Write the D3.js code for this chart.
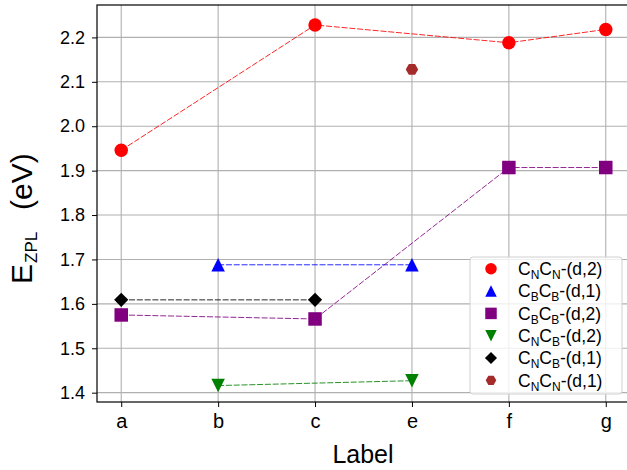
<!DOCTYPE html>
<html>
<head>
<meta charset="utf-8">
<script src="https://cdn.jsdelivr.net/npm/d3@7"></script>
<style>
    body { margin: 0; background: #fff; }
    svg { font-family: "Liberation Sans", Arial, sans-serif; }
</style>
</head>
<body>
<svg id="chart" width="627" height="470"></svg>
<script>
// x categories and y ticks
const labels = ['a', 'b', 'c', 'e', 'f', 'g'];
const yTicks = [1.4, 1.5, 1.6, 1.7, 1.8, 1.9, 2.0, 2.1, 2.2];

// E_ZPL values per label (null = not computed)
const cncnD2 = [1.946, null, 2.228, null, 2.188, 2.218];
const cbcbD1 = [null, 1.688, null, 1.688, null, null];
const cbcbD2 = [1.575, null, 1.566, null, 1.907, 1.907];
const cncbD2 = [null, 1.416, null, 1.427, null, null];
const cncbD1 = [1.609, null, 1.609, null, null, null];
const cncnD1 = [null, null, null, 2.128, null, null];

// legend names: [main, sub, main, sub, rest]
const names = [
    ['C', 'N', 'C', 'N', '-(d,2)'],
    ['C', 'B', 'C', 'B', '-(d,1)'],
    ['C', 'B', 'C', 'B', '-(d,2)'],
    ['C', 'N', 'C', 'B', '-(d,2)'],
    ['C', 'N', 'C', 'B', '-(d,1)'],
    ['C', 'N', 'C', 'N', '-(d,1)']
];

const series = [
    {values: cncnD2, color: 'red', marker: 'circle', name: names[0]},
    {values: cbcbD1, color: 'blue', marker: 'triangleUp', name: names[1]},
    {values: cbcbD2, color: 'purple', marker: 'square', name: names[2]},
    {values: cncbD2, color: 'green', marker: 'triangleDown', name: names[3]},
    {values: cncbD1, color: 'black', marker: 'diamond', name: names[4]},
    {values: cncnD1, color: 'brown', marker: 'hexagon', name: names[5]}
];

const margin = {left: 97, top: 5, right: 630, bottom: 402};

const svg = d3.select('#chart');

const x = d3.scalePoint().domain(labels).range([margin.left, margin.right]).padding(0.25);
const y = d3.scaleLinear().domain([1.379, 2.273]).range([margin.bottom, margin.top]);

// marker path, ms = marker size in px
function markerPath(type, ms) {
    const s = ms / 2;
    if (type === 'circle') {
        return `M${s},0A${s},${s} 0 1,1 ${-s},0A${s},${s} 0 1,1 ${s},0Z`;
    } else if (type === 'square') {
        return `M${-s},${-s}H${s}V${s}H${-s}Z`;
    } else if (type === 'triangleUp') {
        return `M0,${-s}L${s},${s}L${-s},${s}Z`;
    } else if (type === 'triangleDown') {
        return `M0,${s}L${s},${-s}L${-s},${-s}Z`;
    } else if (type === 'diamond') {
        const d = s * 1.05;
        return `M0,${-d}L${d},0L0,${d}L${-d},0Z`;
    } else {
        const r = s * 0.92;
        const pts = d3.range(6).map(i => {
            const a = i * Math.PI / 3;
            return [r * Math.cos(a), r * Math.sin(a)];
        });
        return 'M' + pts.map(p => p.join(',')).join('L') + 'Z';
    }
}

// grid
const grid = svg.append('g').attr('class', 'grid');
grid.selectAll('line.v')
    .data(labels)
    .enter().append('line')
    .attr('x1', d => x(d)).attr('x2', d => x(d))
    .attr('y1', margin.top).attr('y2', margin.bottom)
    .attr('stroke', '#b0b0b0').attr('stroke-width', 1.1);
grid.selectAll('line.h')
    .data(yTicks)
    .enter().append('line')
    .attr('x1', margin.left).attr('x2', margin.right)
    .attr('y1', d => y(d)).attr('y2', d => y(d))
    .attr('stroke', '#b0b0b0').attr('stroke-width', 1.1);

// lines and markers
const line = d3.line().x(d => x(d.label)).y(d => y(d.value));

series.forEach(s => {
    const pts = labels.map((l, i) => ({label: l, value: s.values[i]})).filter(d => d.value !== null);
    if (pts.length > 1) {
        svg.append('path')
            .datum(pts)
            .attr('d', line)
            .attr('fill', 'none')
            .attr('stroke', s.color)
            .attr('stroke-width', 1)
            .attr('stroke-opacity', 0.85)
            .attr('stroke-dasharray', '6,1.8');
    }
    svg.append('g').selectAll('path')
        .data(pts)
        .enter().append('path')
        .attr('transform', d => `translate(${x(d.label)},${y(d.value)})`)
        .attr('d', markerPath(s.marker, 13.5))
        .attr('fill', s.color);
});

// axes
const xAxis = svg.append('g')
    .attr('transform', `translate(0,${margin.bottom})`)
    .call(d3.axisBottom(x).tickSize(5).tickPadding(7).tickSizeOuter(0));
xAxis.selectAll('text').attr('font-size', 20).attr('fill', '#000').attr('font-family', 'Liberation Sans, Arial, sans-serif');

const yAxis = svg.append('g')
    .attr('transform', `translate(${margin.left},0)`)
    .call(d3.axisLeft(y).tickValues(yTicks).tickFormat(d3.format('.1f')).tickSize(5).tickPadding(7).tickSizeOuter(0));
yAxis.selectAll('text').attr('font-size', 18).attr('fill', '#000').attr('font-family', 'Liberation Sans, Arial, sans-serif');

svg.selectAll('.domain').remove();
svg.selectAll('.tick line').attr('stroke', '#000').attr('stroke-width', 1);

// frame
svg.append('rect')
    .attr('x', margin.left).attr('y', margin.top)
    .attr('width', margin.right - margin.left).attr('height', margin.bottom - margin.top)
    .attr('fill', 'none').attr('stroke', '#000').attr('stroke-width', 1.2);

// axis labels
svg.append('text')
    .attr('x', 363).attr('y', 463)
    .attr('text-anchor', 'middle')
    .attr('font-size', 25)
    .text('Label');

const yl = svg.append('text')
    .attr('transform', 'translate(32,284) rotate(-90)')
    .attr('font-size', 30);
yl.append('tspan').attr('x', 0).text('E');
yl.append('tspan').attr('x', 21).attr('dy', 5).attr('font-size', 17).text('ZPL');
yl.append('tspan').attr('x', 74).attr('dy', -5).text('(eV)');

// legend
const legend = svg.append('g');
legend.append('rect')
    .attr('x', 470).attr('y', 257).attr('width', 152).attr('height', 137).attr('rx', 3)
    .attr('fill', '#fff').attr('fill-opacity', 0.8)
    .attr('stroke', '#d0d0d0').attr('stroke-width', 1);

series.forEach((s, i) => {
    const cy = 268.8 + i * 22.3;
    legend.append('path')
        .attr('transform', `translate(491,${cy})`)
        .attr('d', markerPath(s.marker, 11.5))
        .attr('fill', s.color);
    const t = legend.append('text')
        .attr('x', 518).attr('y', cy + 6.3)
        .attr('font-size', 17.5);
    t.append('tspan').text(s.name[0]);
    t.append('tspan').attr('dy', 4).attr('font-size', 12).text(s.name[1]);
    t.append('tspan').attr('dy', -4).text(s.name[2]);
    t.append('tspan').attr('dy', 4).attr('font-size', 12).text(s.name[3]);
    t.append('tspan').attr('dy', -4).text(s.name[4]);
});
</script>
</body>
</html>
